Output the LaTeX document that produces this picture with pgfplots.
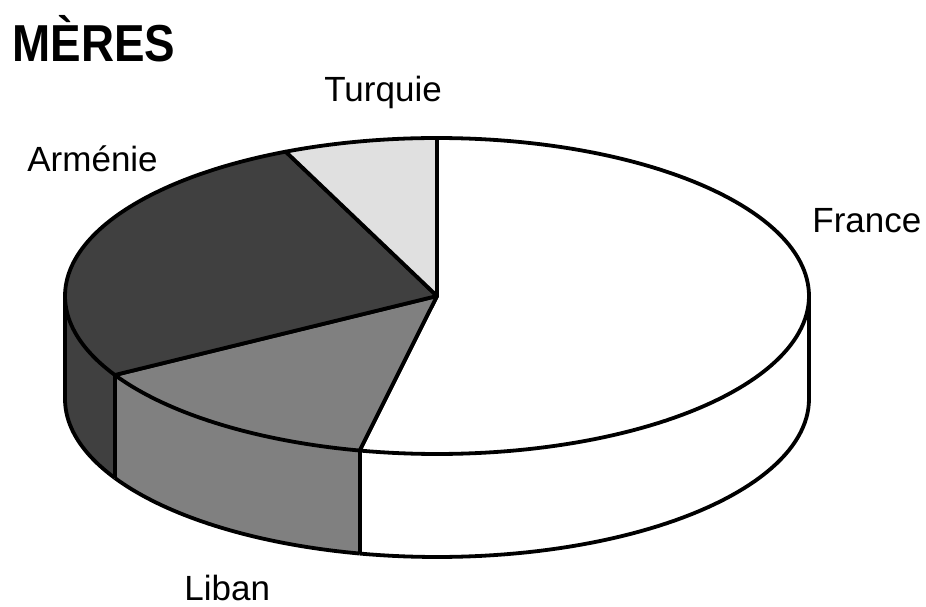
\documentclass[border=0pt]{standalone}
\usepackage{graphicx}
\usepackage{pgfplots}
\pgfplotsset{compat=1.18}
\usepackage{pgfplotstable}
\usepgfplotslibrary{fillbetween}
\usepackage{fontspec}
\setmainfont{Liberation Sans}

\pgfplotstableread{
pays n
France 8
Liban 2
Armenie 4
Turquie 1
}\meresdata

\definecolor{cFrance}{gray}{1}
\definecolor{cLiban}{HTML}{808080}
\definecolor{cArm}{HTML}{404040}
\definecolor{cTur}{HTML}{E0E0E0}

\pgfplotstablegetelem{0}{n}\of\meresdata \let\nF\pgfplotsretval
\pgfplotstablegetelem{1}{n}\of\meresdata \let\nL\pgfplotsretval
\pgfplotstablegetelem{2}{n}\of\meresdata \let\nA\pgfplotsretval
\pgfplotstablegetelem{3}{n}\of\meresdata \let\nT\pgfplotsretval
\pgfmathsetmacro\tot{\nF+\nL+\nA+\nT}
\pgfmathsetmacro\bA{90}
\pgfmathsetmacro\bB{\bA-360*\nF/\tot}
\pgfmathsetmacro\bC{\bB-360*\nL/\tot}
\pgfmathsetmacro\bD{\bC-360*\nA/\tot}
\pgfmathsetmacro\bE{\bD-360*\nT/\tot}
\def\cx{437}\def\cy{310}\def\rx{372}\def\ry{158}\def\dd{103}
% vertical edge positions
\pgfmathsetmacro\xL{\cx+\rx*cos(-180)}\pgfmathsetmacro\yL{\cy+\ry*sin(-180)}
\pgfmathsetmacro\xR{\cx+\rx*cos(0)}\pgfmathsetmacro\yR{\cy+\ry*sin(0)}
\pgfmathsetmacro\xB{\cx+\rx*cos(\bB)}\pgfmathsetmacro\yB{\cy+\ry*sin(\bB)}
\pgfmathsetmacro\xC{\cx+\rx*cos(\bC)}\pgfmathsetmacro\yC{\cy+\ry*sin(\bC)}
\pgfmathsetmacro\yLb{\yL-\dd}\pgfmathsetmacro\yRb{\yR-\dd}
\pgfmathsetmacro\yBb{\yB-\dd}\pgfmathsetmacro\yCb{\yC-\dd}

\tikzset{edge/.style={draw=black, line width=1.9pt, line join=round}}

\begin{document}
\begin{tikzpicture}
\begin{axis}[scale only axis, width=463pt, height=303pt,
  xmin=0, xmax=926, ymin=0, ymax=606, hide axis, clip=false]
% ---- sides ----
\addplot[name path=tF, draw=none, domain=\bB:0, samples=60, variable=\t] ({\cx+\rx*cos(\t)},{\cy+\ry*sin(\t)});
\addplot[name path=bF, edge, domain=\bB:0, samples=60, variable=\t] ({\cx+\rx*cos(\t)},{\cy-\dd+\ry*sin(\t)});
\addplot[fill=cFrance, draw=none] fill between[of=tF and bF];
\addplot[name path=tL, draw=none, domain=\bC:\bB, samples=40, variable=\t] ({\cx+\rx*cos(\t)},{\cy+\ry*sin(\t)});
\addplot[name path=bL, edge, domain=\bC:\bB, samples=40, variable=\t] ({\cx+\rx*cos(\t)},{\cy-\dd+\ry*sin(\t)});
\addplot[fill=cLiban, draw=none] fill between[of=tL and bL];
\addplot[name path=tA, draw=none, domain=-180:\bC, samples=30, variable=\t] ({\cx+\rx*cos(\t)},{\cy+\ry*sin(\t)});
\addplot[name path=bA, edge, domain=-180:\bC, samples=30, variable=\t] ({\cx+\rx*cos(\t)},{\cy-\dd+\ry*sin(\t)});
\addplot[fill=cArm, draw=none] fill between[of=tA and bA];
% vertical edges
\addplot[edge] coordinates {(\xL,\yL) (\xL,\yLb)};
\addplot[edge] coordinates {(\xR,\yR) (\xR,\yRb)};
\addplot[edge] coordinates {(\xB,\yB) (\xB,\yBb)};
\addplot[edge] coordinates {(\xC,\yC) (\xC,\yCb)};
% ---- top faces ----
\addplot[fill=cFrance, edge, domain=\bB:\bA, samples=120, variable=\t] ({\cx+\rx*cos(\t)},{\cy+\ry*sin(\t)}) -- (axis cs:\cx,\cy) -- cycle;
\addplot[fill=cLiban, edge, domain=\bC:\bB, samples=40, variable=\t] ({\cx+\rx*cos(\t)},{\cy+\ry*sin(\t)}) -- (axis cs:\cx,\cy) -- cycle;
\addplot[fill=cArm, edge, domain=\bD:\bC, samples=80, variable=\t] ({\cx+\rx*cos(\t)},{\cy+\ry*sin(\t)}) -- (axis cs:\cx,\cy) -- cycle;
\addplot[fill=cTur, edge, domain=\bE:\bD, samples=30, variable=\t] ({\cx+\rx*cos(\t)},{\cy+\ry*sin(\t)}) -- (axis cs:\cx,\cy) -- cycle;
% ---- labels ----
\node[anchor=base west, inner sep=0pt, font=\bfseries\fontsize{26}{30}\selectfont] at (axis cs:12,544) {\scalebox{0.88}[1]{MÈRES}};
\node[anchor=base west, inner sep=0pt, font=\fontsize{17.5}{20}\selectfont] at (axis cs:324,504) {Turquie};
\node[anchor=base west, inner sep=0pt, font=\fontsize{17.5}{20}\selectfont] at (axis cs:27,434) {Arménie};
\node[anchor=base west, inner sep=0pt, font=\fontsize{17.5}{20}\selectfont] at (axis cs:812,373) {France};
\node[anchor=base west, inner sep=0pt, font=\fontsize{17.5}{20}\selectfont] at (axis cs:184,6) {Liban};
% full frame for the bounding box
\path (axis cs:0,0) rectangle (axis cs:926,606);
\end{axis}
\end{tikzpicture}
\end{document}
